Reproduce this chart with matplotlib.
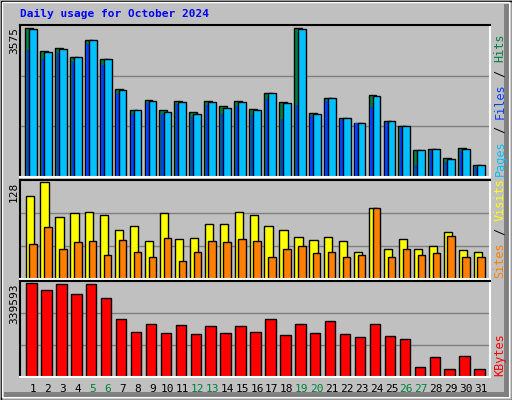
import numpy as np
import matplotlib.pyplot as plt
from matplotlib.patches import Rectangle

days = list(range(1, 32))
weekend = [5, 6, 12, 13, 19, 20, 26, 27]

HITS_MAX = 3575
SITES_MAX = 128
KB_MAX = 339593

# values (pixel heights converted back)
hits = [3575, 3014, 3087, 2868, 3282, 2819, 2113, 1601, 1845, 1601, 1820, 1552, 1820, 1698, 1820, 1625, 2015, 1796, 3575, 1527, 1893, 1406, 1284, 1966, 1333, 1235, 650, 682, 455, 699, 284]
files = [3551, 2990, 3063, 2868, 3282, 2819, 2088, 1601, 1820, 1552, 1796, 1503, 1796, 1649, 1796, 1601, 2015, 1771, 3551, 1503, 1893, 1406, 1284, 1942, 1333, 1235, 650, 682, 430, 674, 284]
pages = [3047, 2819, 2982, 2770, 3185, 2698, 1991, 1503, 1771, 1503, 1747, 1430, 1722, 1503, 1698, 1479, 1869, 1381, 1722, 1454, 1820, 1357, 1284, 1674, 1284, 1186, 284, 625, 357, 625, 235]
sites = [110, 128, 82, 87, 88, 85, 64, 70, 50, 87, 53, 54, 73, 73, 89, 85, 70, 64, 56, 52, 56, 50, 36, 93, 40, 53, 40, 43, 62, 38, 36]
visits = [46, 68, 40, 49, 50, 31, 52, 36, 29, 54, 24, 36, 50, 49, 53, 50, 29, 39, 44, 34, 36, 29, 32, 93, 29, 40, 31, 34, 57, 29, 29]
kbytes = [339593, 313567, 335876, 298697, 335876, 283825, 209466, 161133, 190876, 157415, 187158, 153697, 183440, 157415, 183440, 161133, 209466, 149979, 190876, 157415, 202030, 153697, 142543, 190876, 146261, 138825, 34708, 71887, 27272, 75605, 27272]

BG = '#C0C0C0'
W, H = 512, 400

fig = plt.figure(figsize=(W / 100, H / 100), dpi=100)
fig.patch.set_facecolor(BG)

def px_rect(x0, y0, x1, y1, **kw):
    fig.patches.append(Rectangle((x0 / W, 1 - y1 / H), (x1 - x0) / W, (y1 - y0) / H,
                                 transform=fig.transFigure, **kw))

# outer bevel
px_rect(0.5, 0.5, W - 0.5, H - 0.5, fill=False, edgecolor='black', lw=1)
px_rect(2, 2, W - 3, H - 3, fill=False, edgecolor='white', lw=1)
px_rect(W - 8, 4, W - 3, H - 3, facecolor='#808080', edgecolor='none')
px_rect(4, H - 8, W - 3, H - 3, facecolor='#808080', edgecolor='none')

fig.text(20 / W, 1 - 14 / H, 'Daily usage for October 2024', color='#0000FF',
         family='DejaVu Sans Mono', weight='bold', fontsize=8, va='center')

X0, X1 = 20, 490
panels = [(25, 177), (180, 279), (281, 377)]
xl = (0.13, 31.6)
mono = 'DejaVu Sans Mono'

def make_ax(y0, y1, ymax):
    ax = fig.add_axes([X0 / W, 1 - y1 / H, (X1 - X0) / W, (y1 - y0) / H])
    ax.set_facecolor(BG)
    ax.set_xlim(*xl)
    ax.set_ylim(0, ymax * 1.02)
    ax.set_xticks([])
    ax.set_yticks([])
    for s in ['top', 'left']:
        ax.spines[s].set_color('black')
    for s in ['bottom', 'right']:
        ax.spines[s].set_color('white')
    for sp in ax.spines.values():
        sp.set_linewidth(1.5)
    for g in (1 / 3, 2 / 3):
        ax.axhline(ymax * 1.02 * g, color='#808080', lw=1, zorder=0)
    return ax

d = np.array(days)
bar_kw = dict(align='edge', edgecolor='black', linewidth=1)

ax1 = make_ax(*panels[0], HITS_MAX)
ax1.bar(d - 0.53, hits, 0.53, color='#008040', **bar_kw)
ax1.bar(d - 0.42, pages, 0.16, color='#0040FF', linewidth=0, align='edge')
ax1.bar(d - 0.26, files, 0.52, color='#00C0FF', **bar_kw)

ax2 = make_ax(*panels[1], SITES_MAX)
ax2.bar(d - 0.5, sites, 0.55, color='#FFFF00', **bar_kw)
ax2.bar(d - 0.25, visits, 0.5, color='#FF8000', **bar_kw)

ax3 = make_ax(*panels[2], KB_MAX)
ax3.bar(d - 0.45, kbytes, 0.7, color='#FF0000', **bar_kw)

# y max labels
for (y0, y1), lab in zip(panels, ['3575', '128', '339593']):
    fig.text(14 / W, 1 - (y0 + 2) / H, lab, rotation=90, family=mono, fontsize=8,
             ha='center', va='top', color='black')

# right side legends (reading bottom to top)
FS = 8.5
STEP = 0.602 * FS * 100 / 72

def side_label(parts, y_bottom):
    y = y_bottom
    for txt, col in parts:
        fig.text(500 / W, 1 - y / H, txt, rotation=90, family=mono, fontsize=FS,
                 color=col, ha='center', va='bottom')
        y -= len(txt) * STEP

side_label([('Pages', '#00C0FF'), (' / ', 'black'), ('Files', '#0040FF'), (' / ', 'black'), ('Hits', '#008040')], 176)
side_label([('Sites', '#FF8000'), (' / ', 'black'), ('Visits', '#FFFF00')], 278)
side_label([('KBytes', '#FF0000')], 376)

# day labels
for day in days:
    xf = (X0 + (day - xl[0]) / (xl[1] - xl[0]) * (X1 - X0)) / W
    col = '#008040' if day in weekend else 'black'
    fig.text(xf, 1 - 389 / H, str(day), ha='center', va='center', family=mono,
             fontsize=8, color=col)

fig.savefig('out.png', dpi=100, facecolor=BG)
